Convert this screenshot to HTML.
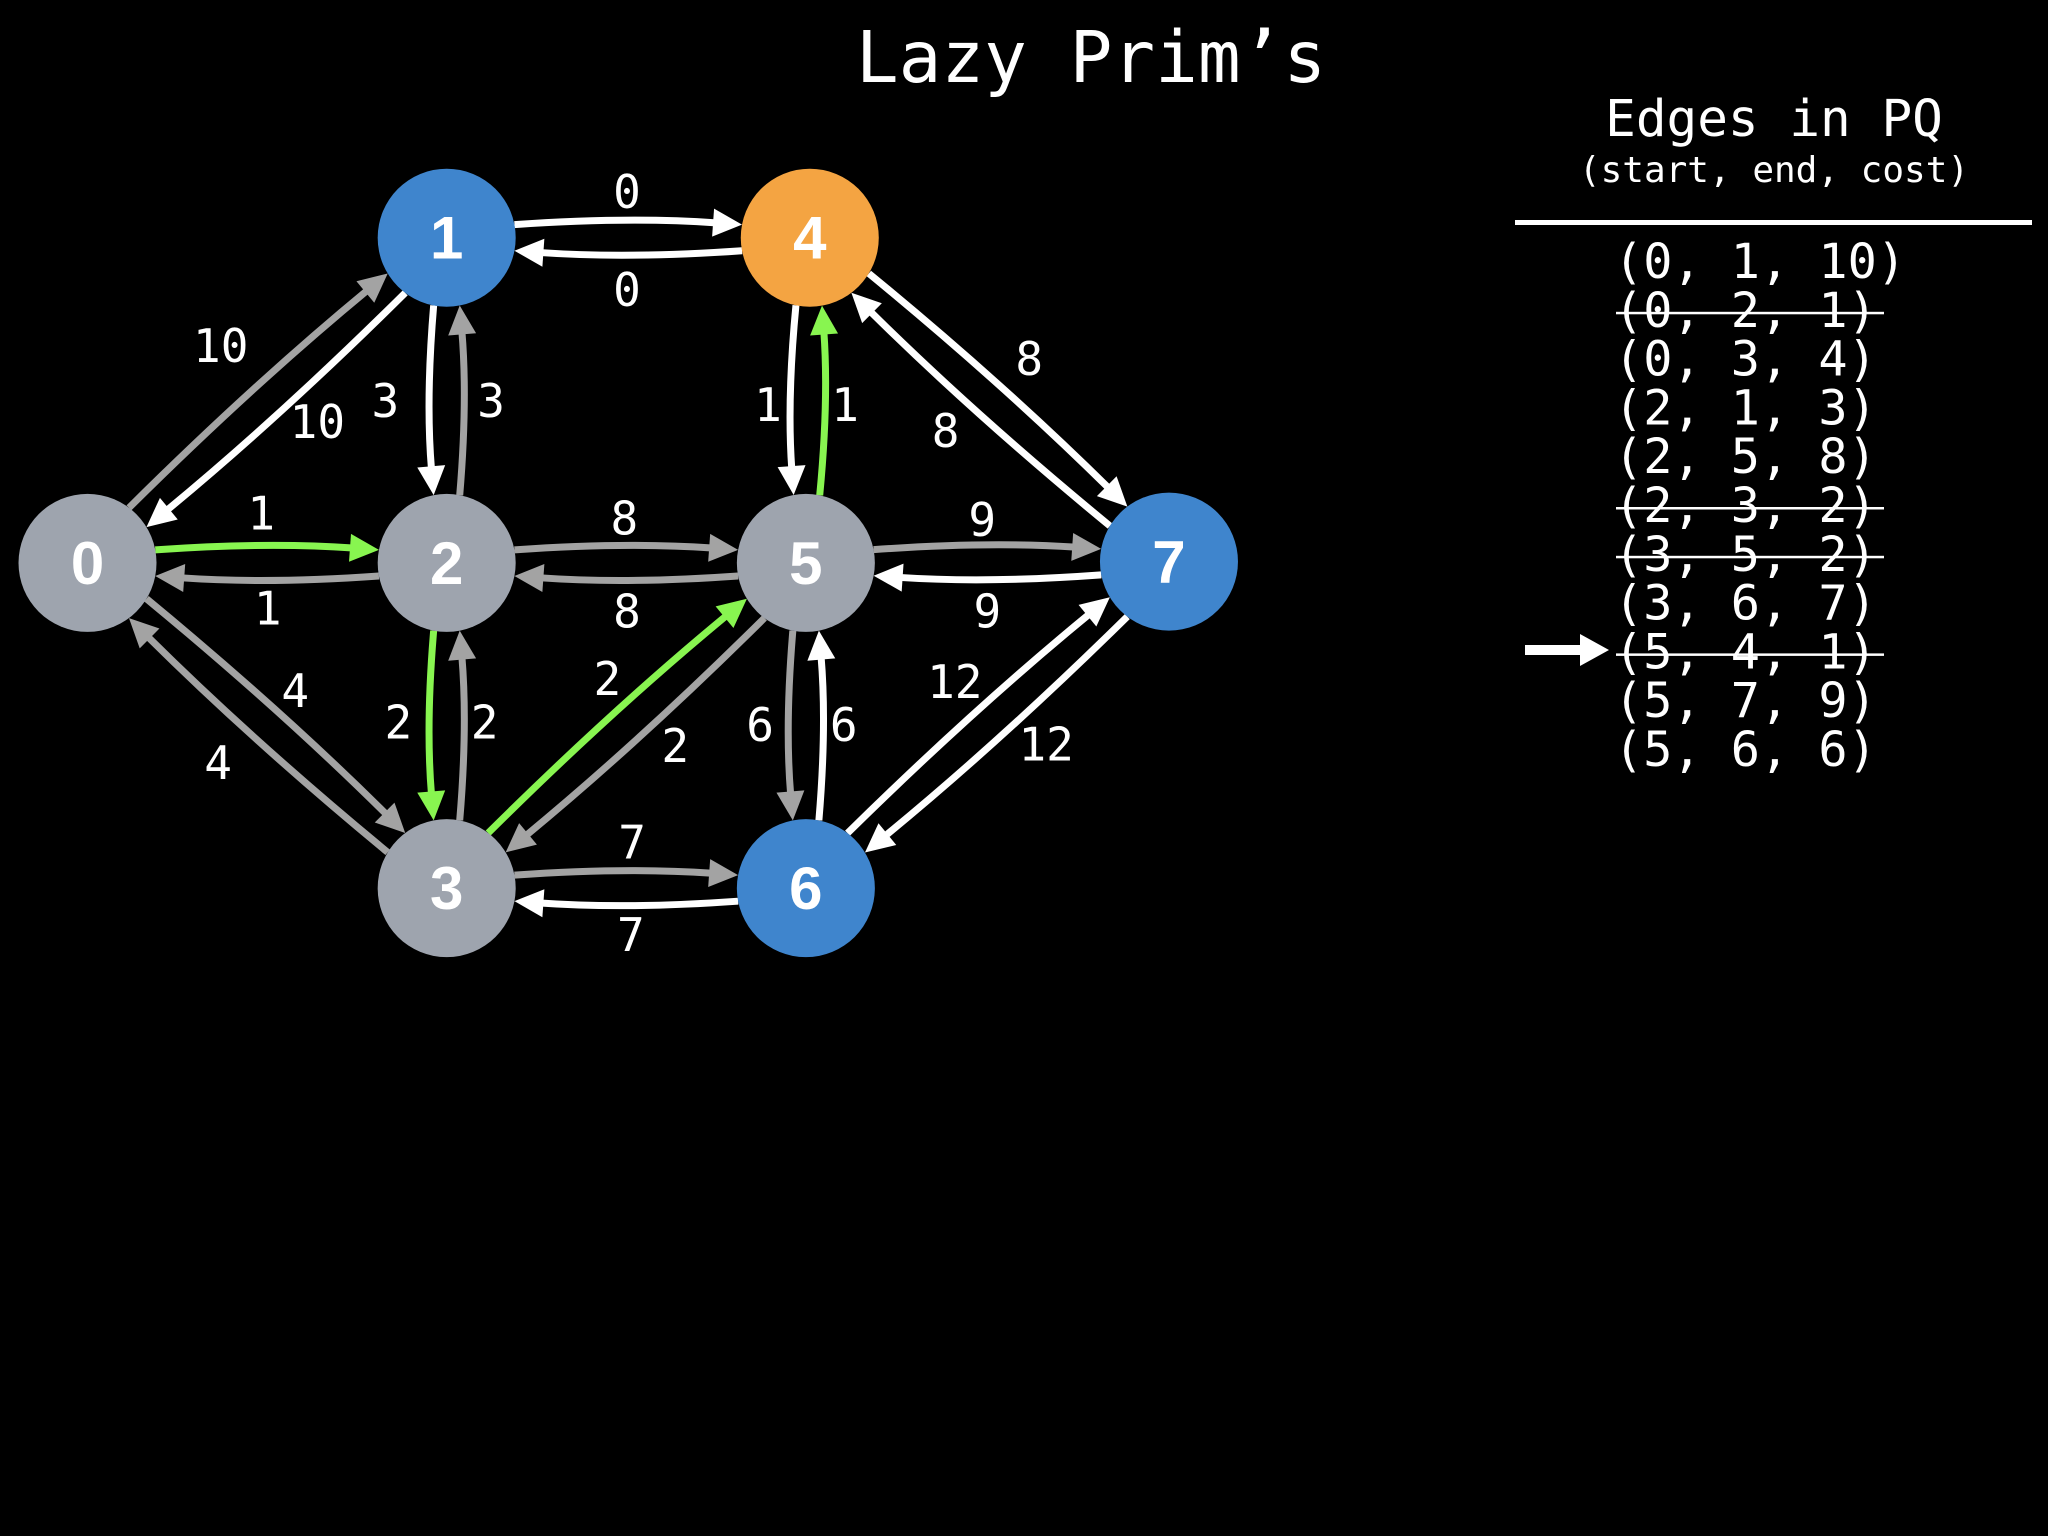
<!DOCTYPE html>
<html><head><meta charset="utf-8">
<style>
html,body{margin:0;padding:0;background:#000;}
body{width:2048px;height:1536px;overflow:hidden;position:relative;}
svg{position:absolute;left:0;top:0;}
</style></head>
<body>
<svg id="s" width="2048" height="1536" viewBox="0 0 2048 1536" xmlns="http://www.w3.org/2000/svg">
<rect width="2048" height="1536" fill="#000"/>
<text x="1091" y="82" font-family="DejaVu Sans Mono, Liberation Mono, monospace" font-size="71" fill="#fff" text-anchor="middle">Lazy Prim’s</text>
<text x="1774" y="136" font-family="DejaVu Sans Mono, Liberation Mono, monospace" font-size="51" fill="#fff" text-anchor="middle">Edges in PQ</text>
<text x="1774" y="182" font-family="DejaVu Sans Mono, Liberation Mono, monospace" font-size="36" fill="#fff" text-anchor="middle">(start, end, cost)</text>
<rect x="1515" y="220" width="517" height="5" fill="#fff"/>
<g id="rows" font-family="DejaVu Sans Mono, Liberation Mono, monospace" font-size="48.5" fill="#fff"></g>
<polygon points="1525,645 1580,645 1580,634 1609,650 1580,666 1580,655 1525,655" fill="#fff"/>
<g id="edges"></g>
<g id="nodes"></g>
<g id="labels" font-family="DejaVu Sans Mono, Liberation Mono, monospace" font-size="46" fill="#fff" text-anchor="middle"></g>
</svg>
<script>
var NS="http://www.w3.org/2000/svg";
function el(t,a,p){var e=document.createElementNS(NS,t);for(var k in a)e.setAttribute(k,a[k]);p.appendChild(e);return e;}
var rows=[["(0, 1, 10)",0],["(0, 2, 1)",1],["(0, 3, 4)",0],["(2, 1, 3)",0],["(2, 5, 8)",0],["(2, 3, 2)",1],["(3, 5, 2)",1],["(3, 6, 7)",0],["(5, 4, 1)",1],["(5, 7, 9)",0],["(5, 6, 6)",0]];
var rg=document.getElementById("rows");
rows.forEach(function(r,i){var cy=261+i*48.8;var t=el("text",{x:1614,y:cy+17},rg);t.textContent=r[0];
 if(r[1])el("rect",{x:1616,y:cy+2,width:268,height:2.5,fill:"#fff"},rg);});
var S=1.3061;
var N={0:[67,431,"#9ea4ae"],1:[342,182,"#3f85cd"],4:[620,182,"#f4a442"],2:[342,431,"#9ea4ae"],5:[617,431,"#9ea4ae"],7:[895,430,"#3f85cd"],3:[342,680,"#9ea4ae"],6:[617,680,"#3f85cd"]};
var R=69;
var W="#ffffff",G="#a3a3a3",L="#88f550";
var E=[[1,4,W,1],[4,1,W,1],[0,2,L,1],[2,0,G,1],[2,5,G,1],[5,2,G,1],[5,7,G,1],[7,5,W,1],[3,6,G,1],[6,3,W,1],
[1,2,W,-1],[2,1,G,-1],[2,3,L,-1],[3,2,G,-1],[4,5,W,-1],[5,4,L,-1],[5,6,G,-1],[6,5,W,-1],
[0,1,G,1],[1,0,W,1],[0,3,G,1],[3,0,G,1],[3,5,L,1],[5,3,G,1],[4,7,W,1],[7,4,W,1],[6,7,W,1],[7,6,W,1]];
var eg=document.getElementById("edges");
E.forEach(function(e){
 var a=N[e[0]],b=N[e[1]];var ax=a[0]*S,ay=a[1]*S,bx=b[0]*S,by=b[1]*S;
 var dx=bx-ax,dy=by-ay,len=Math.hypot(dx,dy);dx/=len;dy/=len;
 var nx=dy*e[3],ny=-dx*e[3];
 var th=0.19;
 var c=Math.cos(th),s=Math.sin(th);
 var p0x=ax+R*(dx*c+nx*s),p0y=ay+R*(dy*c+ny*s);
 var p2x=bx+R*(-dx*c+nx*s),p2y=by+R*(-dy*c+ny*s);
 var mx=(ax+bx)/2+nx*21,my=(ay+by)/2+ny*21;
 var tx=p2x-mx,ty=p2y-my,tl=Math.hypot(tx,ty);tx/=tl;ty/=tl;
 var AL=29,AW=14;
 var qx=p2x-tx*AL,qy=p2y-ty*AL;
 el("path",{d:"M"+p0x+","+p0y+" Q"+mx+","+my+" "+(qx+tx*3)+","+(qy+ty*3),fill:"none",stroke:e[2],"stroke-width":7},eg);
 el("polygon",{points:p2x+","+p2y+" "+(qx-ty*AW)+","+(qy+tx*AW)+" "+(qx+ty*AW)+","+(qy-tx*AW),fill:e[2]},eg);
});
var ng=document.getElementById("nodes");
for(var k in N){var n=N[k];el("circle",{cx:n[0]*S,cy:n[1]*S,r:R,fill:n[2]},ng);
 var t=el("text",{x:n[0]*S,y:n[1]*S+21,"font-family":"Liberation Sans, Arial, sans-serif","font-weight":"bold","font-size":60,fill:"#fff","text-anchor":"middle"},ng);t.textContent=k;}
var LB=[["0",480,147],["0",480,222],["10",169,265],["10",243,323],["3",295,307],["3",376,307],["1",588,310],["1",647,310],["8",788,275],["8",724,330],["1",200,393],["1",205,466],["8",478,397],["8",480,468],["9",752,398],["9",756,468],["4",226,529],["4",167,584],["2",305,553],["2",371,553],["2",465,520],["2",517,571],["6",582,555],["6",646,555],["12",731,522],["12",801,570],["7",484,645],["7",483,716]];
var lg=document.getElementById("labels");
LB.forEach(function(l){var t=el("text",{x:l[1]*S,y:l[2]*S+16},lg);t.textContent=l[0];});
</script>
</body></html>
